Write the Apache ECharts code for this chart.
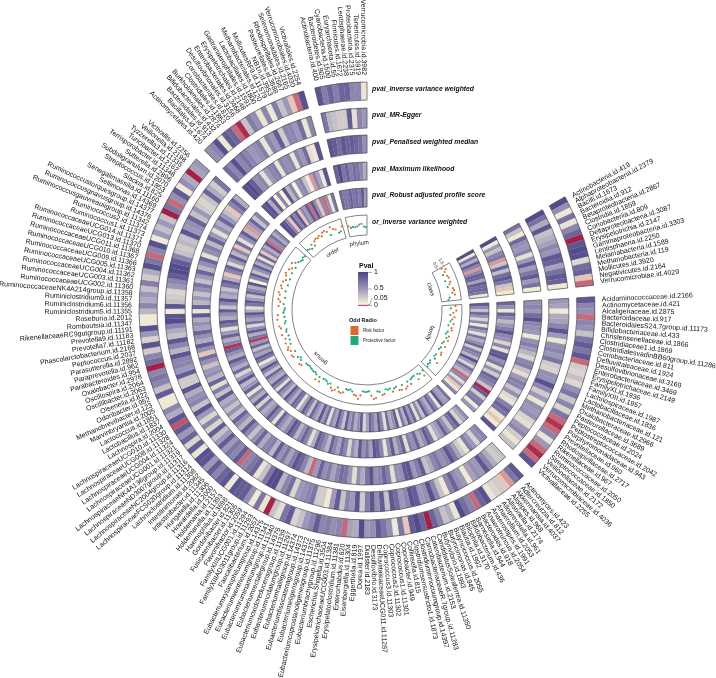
<!DOCTYPE html>
<html>
<head>
<meta charset="utf-8">
<style>html,body{margin:0;padding:0;background:#fff}#chart{width:716px;height:678px}</style>
<script src="https://cdn.jsdelivr.net/npm/echarts@6/dist/echarts.min.js"></script>
</head>
<body>
<div id="chart"></div>
<script>
// taxa in clockwise drawing order
const classNames = ['Actinobacteria.id.419','Alphaproteobacteria.id.2379','Bacilli.id.1673','Bacteroidia.id.912','Betaproteobacteria.id.2867','Clostridia.id.1859','Coriobacteriia.id.809','Deltaproteobacteria.id.3087','Erysipelotrichia.id.2147','Gammaproteobacteria.id.3303','Lentisphaeria.id.2250','Melainabacteria.id.1589','Methanobacteria.id.119','Mollicutes.id.3920','Negativicutes.id.2164','Verrucomicrobiae.id.4029'];
const familyNames = ['Acidaminococcaceae.id.2166','Actinomycetaceae.id.421','Alcaligenaceae.id.2875','Bacteroidaceae.id.917','BacteroidalesS24.7group.id.11173','Bifidobacteriaceae.id.433','Christensenellaceae.id.1866','Clostridiaceae1.id.1869','ClostridialesvadinBB60group.id.11286','Coriobacteriaceae.id.811','Defluviitaleaceae.id.1924','Desulfovibrionaceae.id.3169','Enterobacteriaceae.id.3469','Erysipelotrichaceae.id.2149','FamilyXI.id.1936','FamilyXIII.id.1957','Lachnospiraceae.id.1987','Lactobacillaceae.id.1836','Methanobacteriaceae.id.121','Oxalobacteraceae.id.2966','Pasteurellaceae.id.3689','Peptococcaceae.id.2024','Peptostreptococcaceae.id.2042','Porphyromonadaceae.id.943','Prevotellaceae.id.960','Rhodospirillaceae.id.2717','Rikenellaceae.id.967','Ruminococcaceae.id.2050','Streptococcaceae.id.1850','Veillonellaceae.id.2172','Verrucomicrobiaceae.id.4036','Victivallaceae.id.2255'];
const genusNames = ['Actinomyces.id.423','Adlercreutzia.id.812','Akkermansia.id.4037','Alistipes.id.968','Allisonella.id.2174','Alloprevotella.id.961','Anaerofilum.id.2053','Anaerostipes.id.1991','Anaerotruncus.id.2054','Bacteroides.id.918','Barnesiella.id.944','Bifidobacterium.id.436','Bilophila.id.3170','Blautia.id.1992','Butyricicoccus.id.2055','Butyricimonas.id.945','Butyrivibrio.id.1993','CandidatusSoleaferrea.id.11350','Catenibacterium.id.2153','CarnobacteriaceaeR.7group.id.11283','Clostridiuminnocuumgroup.id.14397','Clostridiumsensustricto1.id.1873','Collinsella.id.815','Coprobacter.id.949','Coprococcus1.id.11301','Coprococcus2.id.11302','Coprococcus3.id.11303','DefluviitaleaceaeUCG011.id.11287','Desulfovibrio.id.3173','Dialister.id.2183','Dorea.id.1997','Eggerthella.id.819','Eisenbergiella.id.11304','Enterorhabdus.id.820','Erysipelatoclostridium.id.11381','ErysipelotrichaceaeUCG003.id.11384','Escherichia.Shigella.id.3504','Eubacteriumbrachygroup.id.11296','Eubacteriumcoprostanoligenesgroup.id.11375','Eubacteriumeligensgroup.id.14372','Eubacteriumfissicatenagroup.id.14373','Eubacteriumhalliigroup.id.14374','Eubacteriumnodatumgroup.id.11297','Eubacteriumoxidoreducensgroup.id.11339','Eubacteriumrectalegroup.id.14376','Eubacteriumruminantiumgroup.id.11340','Eubacteriumventriosumgroup.id.11341','Eubacteriumxylanophilumgroup.id.14375','Faecalibacterium.id.2057','FamilyXIIIAD3011group.id.11293','FamilyXIIIUCG001.id.11294','Flavonifractor.id.2059','Fusicatenibacter.id.11305','Gordonibacter.id.821','Haemophilus.id.3698','Holdemanella.id.11393','Holdemania.id.2157','Howardella.id.2000','Hungatella.id.11306','Intestinibacter.id.11345','Intestinimonas.id.2062','Lachnoclostridium.id.11308','LachnospiraceaeFCS020group.id.11314','LachnospiraceaeNC2004group.id.11316','LachnospiraceaeND3007group.id.11317','LachnospiraceaeNK4A136group.id.11319','LachnospiraceaeUCG001.id.11321','LachnospiraceaeUCG004.id.11324','LachnospiraceaeUCG008.id.11328','LachnospiraceaeUCG010.id.11330','Lachnospira.id.2004','Lactobacillus.id.1837','Lactococcus.id.1851','Marvinbryantia.id.2005','Methanobrevibacter.id.123','Odoribacter.id.952','Olsenella.id.822','Oscillibacter.id.2063','Oscillospira.id.2064','Oxalobacter.id.2978','Parabacteroides.id.954','Paraprevotella.id.962','Parasutterella.id.2892','Peptococcus.id.2037','Phascolarctobacterium.id.2168','Prevotella7.id.11182','Prevotella9.id.11183','RikenellaceaeRC9gutgroup.id.11191','Romboutsia.id.11347','Roseburia.id.2012','Ruminiclostridium5.id.11355','Ruminiclostridium6.id.11356','Ruminiclostridium9.id.11357','RuminococcaceaeNK4A214group.id.11358','RuminococcaceaeUCG002.id.11360','RuminococcaceaeUCG003.id.11361','RuminococcaceaeUCG004.id.11362','RuminococcaceaeUCG005.id.11363','RuminococcaceaeUCG009.id.11366','RuminococcaceaeUCG010.id.11367','RuminococcaceaeUCG011.id.11368','RuminococcaceaeUCG013.id.11370','RuminococcaceaeUCG014.id.11371','Ruminococcus1.id.11373','Ruminococcus2.id.11374','Ruminococcusgauvreauiigroup.id.11342','Ruminococcusgnavusgroup.id.14376','Ruminococcustorquesgroup.id.14377','Sellimonas.id.14369','Senegalimassilia.id.11160','Slackia.id.825','Streptococcus.id.1853','Subdoligranulum.id.2070','Sutterella.id.2896','Terrisporobacter.id.11348','Turicibacter.id.2162','Tyzzerella3.id.11335','Veillonella.id.2198','Victivallis.id.2256'];
const orderNames = ['Actinomycetales.id.420','Bacillales.id.1674','Bacteroidales.id.913','Bifidobacteriales.id.432','Burkholderiales.id.2874','Clostridiales.id.1863','Coriobacteriales.id.810','Desulfovibrionales.id.3156','Enterobacteriales.id.3468','Erysipelotrichales.id.2148','Gastranaerophilales.id.1591','Lactobacillales.id.1800','Methanobacteriales.id.120','MollicutesRF9.id.11579','NB1n.id.3953','Pasteurellales.id.3688','Rhodospirillales.id.2667','Selenomonadales.id.2165','Verrucomicrobiales.id.4030','Victivallales.id.2254'];
const phylumNames = ['Actinobacteria.id.400','Bacteroidetes.id.905','Cyanobacteria.id.1500','Euryarchaeota.id.55','Firmicutes.id.1672','Lentisphaerae.id.2238','Proteobacteria.id.2375','Tenericutes.id.3919','Verrucomicrobia.id.3982'];
const sectorLabels = ['class','family','genus','order','phylum'];

// p values per track: class, family, genus (rows of 10), order, phylum
const pvalIvw = [
  .95,.55,.1,.72,.12,.6,.8,.003,.9,.95,.92,.18,.75,.82,.04,.02,
  .88,.6,.55,.02,.6,.55,.3,.7,.85,.7,.88,.02,.25,.2,.3,.18,.55,.7,.28,.6,.2,.7,.02,.008,.02,.6,.12,.5,.02,.006,.02,.9,
  .88,.7,.03,.04,.25,.2,.12,.92,.8,.02,
  .6,.75,.95,.12,.4,.3,.6,.8,.003,.8,
  .95,.85,.04,.7,.1,.55,.7,.85,.55,.5,
  .95,.4,.45,.02,.6,.55,.65,.6,.85,.6,
  .5,.3,.2,.85,.7,.15,.3,.004,.12,.7,
  .1,.55,.85,.85,.9,.1,.9,.8,.6,.85,
  .5,.9,.92,.12,.85,.2,.8,.5,.85,.015,
  .9,.4,.6,.1,.1,.85,.3,.6,.7,.6,
  .003,.75,.6,.25,.9,.2,.5,.92,.1,.1,
  .35,.6,.4,.5,.3,.65,.25,.4,.92,.7,
  .02,.6,.92,.1,.5,.3,.5,.3,.003,.7,
  .02,.55,.85,.1,.55,.4,.003,.45,.5,
  .55,.6,.92,.1,.85,.8,.02,.006,.3,.65,.55,.12,.6,.1,.65,.3,.5,.04,.02,.92,
  .9,.65,.8,.65,.8,.8,.6,.6,.12
];
const pvalEgger = [
  .95,.72,.4,.88,.3,.38,.45,.6,.52,.88,.82,.45,.72,.88,.8,.1,
  .5,.45,.1,.4,.45,.6,.9,.5,.12,.55,.6,.5,.7,.25,.2,.55,.55,.92,.6,.25,.5,.12,.55,.5,.55,.2,.15,.5,.6,.25,.12,.3,
  .3,.25,.4,.6,.88,.5,.55,.45,.09,.5,
  .55,.8,.6,.1,.3,.6,.92,.55,.5,.85,
  .9,.6,.5,.75,.88,.3,.85,.55,.9,.65,
  .25,.9,.5,.6,.3,.85,.5,.1,.25,.25,
  .7,.6,.55,.5,.2,.75,.6,.35,.95,.95,
  .7,.3,.12,.8,.7,.6,.02,.85,.6,.7,
  .5,.85,.5,.3,.85,.2,.6,.2,.5,.9,
  .3,.6,.55,.4,.9,.25,.25,.85,.5,.6,
  .6,.9,.35,.6,.88,.3,.4,.6,.95,.9,
  .1,.9,.3,.25,.2,.5,.6,.85,.95,.95,
  .85,.6,.3,.25,.35,.3,.9,.5,.55,.8,
  .3,.5,.25,.2,.3,.8,.4,.25,.7,
  .75,.6,.92,.6,.7,.6,.5,.55,.65,.12,.6,.5,.85,.25,.6,.6,.5,.75,.12,.6,
  .7,.35,.3,.25,.25,.85,.15,.6,.5
];
const pvalWm = [
  .72,.3,.09,.78,.55,.5,.62,.14,.5,.85,.48,.68,.85,.5,.72,.08,
  .55,.6,.5,.75,.92,.6,.55,.5,.1,.55,.65,.5,.35,.2,.6,.65,.3,.15,.5,.65,.6,.3,.55,.18,.12,.65,.8,.7,.12,.04,.1,.9,
  .6,.55,.2,.5,.65,.12,.25,.45,.7,.9,
  .6,.55,.7,.6,.4,.3,.85,.65,.5,.9,
  .85,.55,.55,.15,.65,.8,.6,.55,.9,.7,
  .4,.55,.15,.5,.7,.75,.6,.45,.65,.55,
  .8,.5,.02,.35,.6,.8,.9,.65,.45,.7,
  .55,.85,.35,.65,.6,.4,.8,.55,.3,.6,
  .85,.35,.55,.8,.3,.55,.3,.5,.4,.88,
  .3,.65,.15,.8,.35,.55,.5,.3,.55,.75,
  .04,.55,.85,.4,.55,.8,.45,.55,.4,.88,
  .12,.8,.35,.5,.3,.55,.7,.3,.5,.8,
  .35,.55,.8,.15,.55,.65,.35,.8,.5,.15,
  .55,.4,.8,.5,.3,.04,.6,.8,.4,
  .92,.95,.85,.55,.6,.15,.5,.6,.65,.12,.6,.55,.6,.12,.6,.5,.75,.15,.1,.9,
  .9,.85,.75,.9,.8,.85,.8,.75,.55
];
const pvalMl = [
  .95,.1,.5,.3,.62,.7,.03,.28,.8,.32,.75,.88,.7,.28,.04,.1,
  .8,.55,.12,.8,.6,.35,.5,.65,.9,.6,.55,.2,.6,.15,.85,.9,.55,.7,.14,.55,.25,.8,.7,.6,.3,.005,.85,.25,.65,.7,.1,.5,
  .55,.4,.2,.85,.7,.3,.55,.8,.5,.4,
  .15,.7,.85,.55,.4,.8,.55,.65,.15,.8,
  .6,.4,.85,.55,.12,.6,.8,.9,.45,.7,
  .55,.88,.4,.55,.2,.6,.75,.45,.6,.8,
  .35,.55,.7,.85,.4,.15,.6,.8,.55,.35,
  .75,.9,.6,.4,.55,.8,.15,.6,.85,.5,
  .4,.7,.2,.85,.4,.6,.12,.8,.5,.35,
  .88,.5,.2,.75,.4,.6,.85,.4,.55,.8,
  .008,.6,.4,.8,.5,.15,.7,.88,.4,.55,
  .85,.3,.6,.9,.4,.5,.3,.7,.85,.4,
  .04,.6,.8,.18,.5,.85,.35,.6,.04,.75,
  .15,.55,.85,.35,.03,.5,.8,.3,.6,
  .88,.92,.4,.85,.05,.6,.05,.9,.35,.6,.05,.55,.6,.3,.1,.03,.6,.45,.1,.9,
  .8,.95,.7,.8,.65,.75,.7,.6,.4
];
const pvalRaps = [
  .95,.12,.72,.4,.85,.6,.03,.6,.85,.8,.45,.85,.75,.8,.7,.1,
  .85,.6,.3,.8,.55,.2,.6,.1,.75,.5,.15,.7,.4,.55,.8,.25,.7,.6,.35,.92,.5,.2,.75,.5,.35,.02,.6,.15,.5,.04,.12,.6,
  .7,.45,.5,.9,.12,.6,.8,.4,.55,.85,
  .3,.6,.15,.8,.5,.88,.4,.7,.12,.85,
  .55,.4,.75,.15,.6,.85,.45,.65,.8,.45,
  .2,.85,.55,.4,.7,.5,.85,.3,.6,.88,
  .45,.6,.15,.75,.5,.9,.4,.55,.8,.3,
  .65,.85,.45,.12,.7,.8,.4,.6,.9,.35,
  .55,.75,.15,.6,.85,.4,.5,.8,.3,.6,
  .9,.4,.12,.7,.85,.45,.6,.3,.8,.5,
  .01,.7,.4,.85,.55,.2,.75,.45,.6,.88,
  .4,.15,.7,.85,.5,.3,.8,.6,.4,.9,
  .05,.6,.85,.3,.55,.85,.4,.7,.15,.8,
  .04,.6,.4,.88,.02,.55,.75,.4,.6,
  .95,.9,.6,.04,.85,.6,.9,.04,.6,.5,.85,.02,.9,.55,.04,.6,.02,.55,.1,.7,
  .75,.7,.7,.8,.7,.75,.65,.85,.5
];
const orIvw = [
  1.04,1.5,1.2,.8,1.3,1.4,.76,1.4,1.2,.84,1.5,1.6,1.3,1.6,.8,.6,
  1.5,.84,1.6,1.2,.8,1.4,1.1,.9,1.36,.7,1.2,1.3,.8,.64,1.16,.9,1.24,.76,.6,1.2,.7,.56,1.1,1.2,.6,.5,.8,1.4,.4,.6,.5,.7,
  .6,1.3,.7,.5,1.2,.4,.44,.56,1.16,.6,
  1.2,1.4,.7,1.3,1.2,.6,.7,1.1,.56,.64,
  .5,1.1,1.2,.7,.6,1.5,1.6,1.1,.5,.56,
  .6,.5,1.1,1.6,1.2,1.1,.7,.5,.6,.56,
  1.1,1.3,1.2,.7,1.16,1.4,1.1,.6,.8,.56,
  .44,.5,1.16,.6,1.2,.56,.4,.5,.44,.4,
  .3,.4,.44,1.1,1.2,.7,.5,.8,1.3,1.4,
  .7,1.2,1.5,1.3,.8,1.4,.7,1.2,.64,1.5,
  .8,.7,1.4,1.6,.76,.6,1.7,.7,1.6,.8,
  .7,.6,1.5,.8,1.3,1.6,.7,1.5,1.7,.8,
  1.4,1.6,.7,1.5,1.2,.7,1.4,1.6,.8,1.4,
  1.1,.7,1.5,1.1,.8,.6,.5,.7,.6,
  .9,.8,.6,1.1,.7,1.2,1.4,1.3,1.5,1.2,1.6,1.7,1.4,.76,1.8,1.4,1.2,.6,.7,1.3,
  1.1,.8,.9,.8,.9,1.1,1.2,.8,.7
];
const trackNames = ['pval_Inverse variance weighted','pval_MR-Egger','pval_Penalised weighted median','pval_Maximum likelihood','pval_Robust adjusted profile score','or_Inverse variance weighted'];
const orTicks = [0.5, 1.5];
const legendTicks = ['1', '0.5', '0.05', '0'];

const cx = 367, cy = 310, outerR = 228;
const heatRings = [[210, 228], [182, 202], [157, 175], [130, 148], [103, 122]];
const orRing = [75, 95];
const slotCount = 245;
const firstSlot = 41, gapSlots = 2;

const pvalTracks = [pvalIvw, pvalEgger, pvalWm, pvalMl, pvalRaps];
const sectors = [classNames, familyNames, genusNames, orderNames, phylumNames];

// flat list of taxa with their slot on the angle axis
const taxa = [];
const spans = [];
let slot = firstSlot;
sectors.forEach((names, s) => {
  spans.push([slot, slot + names.length]);
  names.forEach(n => taxa.push({ name: n, slot: slot++ }));
  slot += gapSlots;
});

const pvalStops = [[0, '#a30f3d'], [0.05, '#f9f3d8'], [0.5, '#9d97b9'], [1, '#4a4487']];
function pvalColor(p) {
  for (let i = 1; i < pvalStops.length; i++) {
    if (p <= pvalStops[i][0]) {
      const a = pvalStops[i - 1], b = pvalStops[i];
      return echarts.color.lerp((p - a[0]) / (b[0] - a[0]), [a[1], b[1]]);
    }
  }
  return pvalStops[pvalStops.length - 1][1];
}

// sector between two slots and two radii, through the polar coord system
function ringSector(api, r0, r1, from, to, style) {
  const p0 = api.coord([r1, from]), p1 = api.coord([r1, to]);
  const start = Math.atan2(p0[1] - cy, p0[0] - cx);
  let end = Math.atan2(p1[1] - cy, p1[0] - cx);
  if (end < start) end += Math.PI * 2;
  return { type: 'sector', shape: { cx, cy, r0, r: r1, startAngle: start, endAngle: end, clockwise: true }, style };
}

function slotDeg(api, s) {
  const p = api.coord([100, s]);
  return (Math.atan2(p[0] - cx, cy - p[1]) * 180 / Math.PI + 360) % 360;
}

const cellData = [];
pvalTracks.forEach((vals, t) => taxa.forEach((d, i) => cellData.push([d.slot, vals[i], t])));
const frameData = [];
[...heatRings, orRing].forEach((ring, t) => spans.forEach(sp => frameData.push([sp[0], sp[1], ring[0], ring[1]])));

const polarBase = { center: [cx, cy] };
const hiddenAngle = { type: 'value', min: 0, max: slotCount, startAngle: 90, clockwise: true, axisLine: { show: false }, axisTick: { show: false }, axisLabel: { show: false }, splitLine: { show: false } };
const hiddenRadius = { type: 'value', axisLine: { show: false }, axisTick: { show: false }, axisLabel: { show: false }, splitLine: { show: false } };

const textFont = '"Liberation Sans", Arial, sans-serif';

const option = {
  animation: false,
  backgroundColor: '#fff',
  polar: [
    { ...polarBase, radius: [0, outerR] },
    { ...polarBase, radius: orRing }
  ],
  angleAxis: [
    { ...hiddenAngle, polarIndex: 0 },
    { ...hiddenAngle, polarIndex: 1 }
  ],
  radiusAxis: [
    { ...hiddenRadius, polarIndex: 0, min: 0, max: outerR },
    { ...hiddenRadius, polarIndex: 1, min: -0.4, max: 2.4 }
  ],
  series: [
    {
      type: 'custom', coordinateSystem: 'polar', polarIndex: 0, silent: true, progressive: 0,
      data: cellData,
      renderItem: (params, api) => {
        const s = api.value(0), ring = heatRings[api.value(2)];
        const col = pvalColor(api.value(1));
        return ringSector(api, ring[0], ring[1], s, s + 1, { fill: col, stroke: col, lineWidth: 0.2 });
      }
    },
    {
      type: 'custom', coordinateSystem: 'polar', polarIndex: 0, silent: true, progressive: 0, z: 3,
      data: frameData,
      renderItem: (params, api) => ringSector(api, api.value(2), api.value(3), api.value(0), api.value(1), { fill: 'none', stroke: '#4d4d4d', lineWidth: 0.7 })
    },
    {
      // taxon names, radial and flipped on the left half
      type: 'custom', coordinateSystem: 'polar', polarIndex: 0, silent: true, progressive: 0, z: 4,
      data: taxa.map(d => [d.slot, d.name]),
      dimensions: ['slot', { name: 'name', type: 'ordinal' }],
      renderItem: (params, api) => {
        const s = taxa[params.dataIndex].slot + 0.5;
        const deg = slotDeg(api, s);
        const pt = api.coord([235, s]);
        const left = deg > 180;
        const rot = (left ? 270 - deg : 90 - deg) * Math.PI / 180;
        return {
          type: 'text', x: pt[0], y: pt[1], rotation: rot,
          style: { text: taxa[params.dataIndex].name, font: '7px ' + textFont, fill: '#111', align: left ? 'right' : 'left', verticalAlign: 'middle' }
        };
      }
    },
    {
      // sector names inside the odds ratio track
      type: 'custom', coordinateSystem: 'polar', polarIndex: 0, silent: true, progressive: 0, z: 4,
      data: spans.map(sp => [sp[0], sp[1]]),
      renderItem: (params, api) => {
        const s = (api.value(0) + api.value(1)) / 2;
        const deg = slotDeg(api, s);
        const pt = api.coord([67, s]);
        return {
          type: 'text', x: pt[0], y: pt[1], rotation: -deg * Math.PI / 180,
          style: { text: sectorLabels[params.dataIndex], font: '6px ' + textFont, fill: '#1a1a1a', align: 'center', verticalAlign: 'middle' }
        };
      }
    },
    {
      // odds ratio axis at the start of the class sector
      type: 'custom', coordinateSystem: 'polar', polarIndex: 1, silent: true, progressive: 0, z: 4,
      data: orTicks.map(v => [v]),
      renderItem: (params, api) => {
        const v = api.value(0), s = spans[0][0];
        const a = api.coord([v, s]), b = api.coord([v, s - 0.7]), c = api.coord([v, s - 2.4]);
        const deg = slotDeg(api, s);
        return {
          type: 'group',
          children: [
            { type: 'line', shape: { x1: a[0], y1: a[1], x2: b[0], y2: b[1] }, style: { stroke: '#333', lineWidth: 0.5 } },
            { type: 'text', x: c[0], y: c[1], rotation: -deg * Math.PI / 180, style: { text: String(v), font: '4.5px ' + textFont, fill: '#1a1a1a', align: 'center', verticalAlign: 'middle' } }
          ]
        };
      }
    },
    {
      name: 'Risk factor', type: 'scatter', coordinateSystem: 'polar', polarIndex: 1, silent: true, z: 5,
      symbol: 'circle', symbolSize: 2.2, itemStyle: { color: '#dc6a2b', opacity: 1 },
      data: taxa.map((d, i) => [orIvw[i], d.slot + 0.5]).filter(v => v[0] > 1)
    },
    {
      name: 'Protective factor', type: 'scatter', coordinateSystem: 'polar', polarIndex: 1, silent: true, z: 5,
      symbol: 'circle', symbolSize: 2.2, itemStyle: { color: '#1eab7e', opacity: 1 },
      data: taxa.map((d, i) => [orIvw[i], d.slot + 0.5]).filter(v => v[0] <= 1)
    }
  ],
  graphic: [
    ...trackNames.map((t, i) => ({
      type: 'text', x: 372, y: 89 + i * 26.6,
      style: { text: t, font: 'italic bold 6.8px ' + textFont, fill: '#111', verticalAlign: 'middle' }
    })),
    { type: 'text', x: 359, y: 266, style: { text: 'Pval', font: 'bold 7px ' + textFont, fill: '#111', verticalAlign: 'middle' } },
    {
      type: 'rect', shape: { x: 358, y: 272, width: 10, height: 34 },
      style: {
        fill: new echarts.graphic.LinearGradient(0, 0, 0, 1, [
          { offset: 0, color: pvalStops[3][1] },
          { offset: 0.5, color: pvalStops[2][1] },
          { offset: 0.95, color: pvalStops[1][1] },
          { offset: 1, color: pvalStops[0][1] }
        ])
      }
    },
    ...legendTicks.map((t, i) => ({
      type: 'text', x: 374, y: [272.5, 288.5, 298, 305][i],
      style: { text: t, font: '7px ' + textFont, fill: '#111', verticalAlign: 'middle' }
    })),
    { type: 'polyline', shape: { points: [[368, 272.5], [372, 272.5]] }, style: { stroke: '#333', lineWidth: 0.4, fill: 'none' } },
    { type: 'polyline', shape: { points: [[368, 289], [372, 289]] }, style: { stroke: '#333', lineWidth: 0.4, fill: 'none' } },
    { type: 'polyline', shape: { points: [[368, 304.5], [370, 304.5], [372, 298]] }, style: { stroke: '#333', lineWidth: 0.4, fill: 'none' } },
    { type: 'polyline', shape: { points: [[368, 305.5], [372, 305.5]] }, style: { stroke: '#333', lineWidth: 0.4, fill: 'none' } },
    { type: 'text', x: 349, y: 320, style: { text: 'Odd Radio', font: 'bold 5.5px ' + textFont, fill: '#111', verticalAlign: 'middle' } },
    { type: 'rect', shape: { x: 350.5, y: 326, width: 8, height: 9 }, style: { fill: '#dc6a2b' } },
    { type: 'rect', shape: { x: 350.5, y: 336, width: 8, height: 9 }, style: { fill: '#1eab7e' } },
    { type: 'text', x: 363, y: 330.5, style: { text: 'Risk factor', font: '4.5px ' + textFont, fill: '#222', verticalAlign: 'middle' } },
    { type: 'text', x: 363, y: 340.5, style: { text: 'Protective factor', font: '4.5px ' + textFont, fill: '#222', verticalAlign: 'middle' } }
  ]
};

const chart = echarts.init(document.getElementById('chart'), null, { renderer: 'canvas' });
chart.setOption(option);
</script>
</body>
</html>
